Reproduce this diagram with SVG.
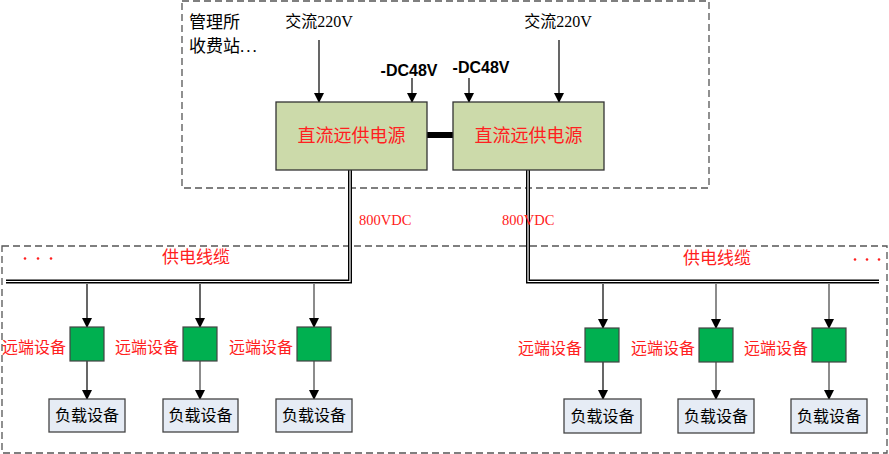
<svg xmlns="http://www.w3.org/2000/svg" width="889" height="454" viewBox="0 0 889 454">
<style>
.cn{font-family:"Noto Sans CJK SC","Liberation Serif",serif;}
.sf{font-family:"Liberation Serif","Noto Sans CJK SC",serif;}
.red{fill:#FF2020;}
.blk{fill:#000;}
.dash{fill:none;stroke:#555;stroke-width:1.3;stroke-dasharray:7,4;}
.psu{fill:#CCDAAA;stroke:#333;stroke-width:1.3;}
.rem{fill:#00B050;stroke:#444;stroke-width:1.2;}
.load{fill:#E6ECF5;stroke:#444;stroke-width:1.3;}
.arr{stroke:#000;stroke-width:1.2;fill:none;marker-end:url(#ah);}
.arrg{stroke:#666;stroke-width:1.5;fill:none;marker-end:url(#ah);}
.cabO{stroke:#000;stroke-width:4;fill:none;}
.cabI{stroke:#fff;stroke-width:1.2;fill:none;}
</style>
<defs>
<marker id="ah" markerWidth="10" markerHeight="10" refX="9" refY="5" orient="auto" markerUnits="userSpaceOnUse">
<path d="M0,0 L10,5 L0,10 z" fill="#000"/>
</marker>
</defs>
<rect width="889" height="454" fill="#fff"/>
<g id="station">
<rect class="dash" x="182" y="1" width="527" height="187"/>
<text class="cn blk" x="189" y="28" font-size="17">管理所</text>
<text class="blk" x="189" y="52" font-size="17"><tspan class="cn">收费站</tspan><tspan class="sf" letter-spacing="2">...</tspan></text>
</g>
<g id="field">
<rect class="dash" x="2" y="246" width="885" height="207"/>
<circle cx="25" cy="258.5" r="1.3" fill="#FF2020"/>
<circle cx="38" cy="258.5" r="1.3" fill="#FF2020"/>
<circle cx="51" cy="258.5" r="1.3" fill="#FF2020"/>
<circle cx="855" cy="259.5" r="1.3" fill="#FF2020"/>
<circle cx="867" cy="259.5" r="1.3" fill="#FF2020"/>
<circle cx="879" cy="259.5" r="1.3" fill="#FF2020"/>
<text class="cn red" x="196" y="263" font-size="17" text-anchor="middle">供电线缆</text>
<text class="cn red" x="717" y="264" font-size="17" text-anchor="middle">供电线缆</text>
</g>
<g id="connectors">
<rect x="427" y="132" width="26" height="6" fill="#000"/>
<path class="cabO" d="M350,170 V281.5 H6"/>
<path class="cabI" d="M350,170 V281.5 H6"/>
<path class="cabO" d="M528,170 V281.5 H879"/>
<path class="cabI" d="M528,170 V281.5 H879"/>
<line class="arr" x1="319" y1="40" x2="319" y2="102"/>
<line class="arr" x1="412" y1="78" x2="412" y2="102"/>
<line class="arr" x1="469" y1="78" x2="469" y2="102"/>
<line class="arr" x1="559" y1="40" x2="559" y2="102"/>
<line class="arr" x1="87" y1="284" x2="87" y2="327"/>
<line class="arr" x1="200" y1="284" x2="200" y2="327"/>
<line class="arrg" x1="314" y1="284" x2="314" y2="327"/>
<line class="arr" x1="603" y1="284" x2="603" y2="328"/>
<line class="arrg" x1="716" y1="284" x2="716" y2="328"/>
<line class="arrg" x1="829" y1="284" x2="829" y2="328"/>
<line class="arr" x1="87" y1="361" x2="87" y2="399"/>
<line class="arrg" x1="200" y1="361" x2="200" y2="399"/>
<line class="arrg" x1="314" y1="361" x2="314" y2="399"/>
<line class="arr" x1="603" y1="362" x2="603" y2="399"/>
<line class="arrg" x1="716" y1="362" x2="716" y2="399"/>
<line class="arrg" x1="829" y1="362" x2="829" y2="399"/>
<text class="sf red" x="359" y="225" font-size="14.5">800VDC</text>
<text class="sf red" x="502" y="225" font-size="14.5">800VDC</text>
</g>
<g id="inputs">
<text x="319" y="27" font-size="16" text-anchor="middle" class="blk"><tspan class="cn">交流</tspan><tspan class="sf">220V</tspan></text>
<text x="558" y="27" font-size="16" text-anchor="middle" class="blk"><tspan class="cn">交流</tspan><tspan class="sf">220V</tspan></text>
<text x="409" y="76" font-size="16" font-weight="bold" font-family="Liberation Sans,sans-serif" text-anchor="middle" class="blk">-DC48V</text>
<text x="481" y="73" font-size="16" font-weight="bold" font-family="Liberation Sans,sans-serif" text-anchor="middle" class="blk">-DC48V</text>
</g>
<g id="psu1">
<rect class="psu" x="276" y="102" width="151" height="68"/>
<text class="cn red" x="351.5" y="142" font-size="18" text-anchor="middle">直流远供电源</text>
</g>
<g id="psu2">
<rect class="psu" x="453" y="102" width="151" height="68"/>
<text class="cn red" x="528.5" y="142" font-size="18" text-anchor="middle">直流远供电源</text>
</g>
<g id="rem1"><rect class="rem" x="70" y="327" width="34" height="34"/><text class="cn red" x="34" y="353" font-size="16" text-anchor="middle">远端设备</text></g>
<g id="rem2"><rect class="rem" x="183" y="327" width="34" height="34"/><text class="cn red" x="147" y="353" font-size="16" text-anchor="middle">远端设备</text></g>
<g id="rem3"><rect class="rem" x="297" y="327" width="34" height="34"/><text class="cn red" x="261" y="353" font-size="16" text-anchor="middle">远端设备</text></g>
<g id="rem4"><rect class="rem" x="585" y="328" width="34" height="34"/><text class="cn red" x="550" y="354" font-size="16" text-anchor="middle">远端设备</text></g>
<g id="rem5"><rect class="rem" x="699" y="328" width="34" height="34"/><text class="cn red" x="663" y="354" font-size="16" text-anchor="middle">远端设备</text></g>
<g id="rem6"><rect class="rem" x="812" y="328" width="34" height="34"/><text class="cn red" x="776" y="354" font-size="16" text-anchor="middle">远端设备</text></g>
<g id="load1"><rect class="load" x="49" y="399" width="76" height="33"/><text class="cn blk" x="87" y="421" font-size="16" text-anchor="middle">负载设备</text></g>
<g id="load2"><rect class="load" x="163" y="399" width="75" height="33"/><text class="cn blk" x="200.5" y="421" font-size="16" text-anchor="middle">负载设备</text></g>
<g id="load3"><rect class="load" x="276" y="399" width="76" height="33"/><text class="cn blk" x="314" y="421" font-size="16" text-anchor="middle">负载设备</text></g>
<g id="load4"><rect class="load" x="564" y="399" width="77" height="34"/><text class="cn blk" x="602.5" y="422" font-size="16" text-anchor="middle">负载设备</text></g>
<g id="load5"><rect class="load" x="678" y="399" width="76" height="34"/><text class="cn blk" x="716" y="422" font-size="16" text-anchor="middle">负载设备</text></g>
<g id="load6"><rect class="load" x="791" y="399" width="76" height="34"/><text class="cn blk" x="829" y="422" font-size="16" text-anchor="middle">负载设备</text></g>
</svg>
